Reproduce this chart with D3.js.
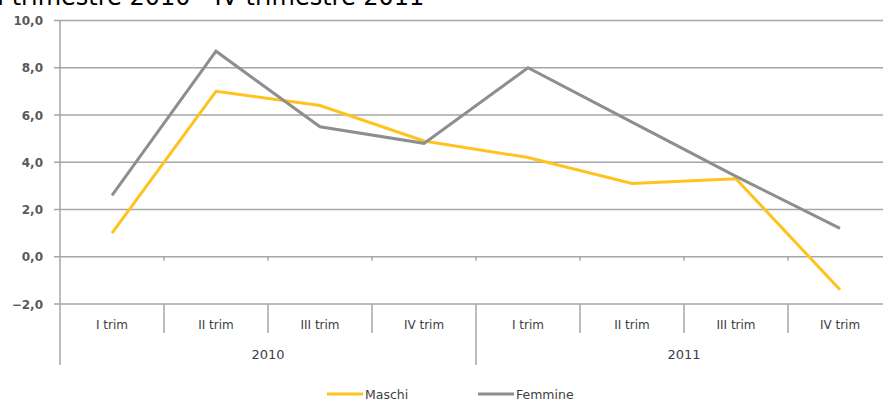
<!DOCTYPE html>
<html><head><meta charset="utf-8">
<script src="https://cdn.jsdelivr.net/npm/d3@7"></script>
<style>body{margin:0;background:#fff;}svg{display:block;font-family:"DejaVu Sans","Open Sans",sans-serif;}</style>
</head><body>
<svg id="c" width="883" height="401"></svg>
<script>
const title = "I trimestre 2010 - IV trimestre 2011";
const quarters = ["I trim","II trim","III trim","IV trim","I trim","II trim","III trim","IV trim"];
const years = ["2010","2011"];
const maschi = [1.0, 7.0, 6.4, 4.9, 4.2, 3.1, 3.3, -1.4];
const femmine = [2.6, 8.7, 5.5, 4.8, 8.0, 5.7, 3.4, 1.2];
const yTicks = [-2,0,2,4,6,8,10];
const seriesNames = ["Maschi","Femmine"];
const colors = ["#FFC31F","#8E8E8E"];

(function(){
const svg = d3.select("#c");
const pLeft = 60, pRight = 892, pTop = 20.5, pBottom = 304;
const x = d3.scaleBand().domain(d3.range(quarters.length)).range([pLeft,pRight]).padding(0);
const y = d3.scaleLinear().domain([-2,10]).range([pBottom,pTop]);
const grid = "#A6A6A6";

// title (clipped at top, as in the reference)
svg.append("text").attr("x",-3).attr("y",5).attr("font-size",24).attr("fill","#000")
  .text(title);

// gridlines
svg.append("g").selectAll("line").data(yTicks).join("line")
  .attr("x1",pLeft-6).attr("x2",883).attr("y1",d=>y(d)).attr("y2",d=>y(d))
  .attr("stroke",grid).attr("stroke-width",1.5);
// y axis line
svg.append("line").attr("x1",pLeft).attr("x2",pLeft).attr("y1",pTop).attr("y2",365)
  .attr("stroke",grid).attr("stroke-width",1.5);
// y labels
svg.append("g").selectAll("text").data(yTicks).join("text")
  .attr("x",43).attr("y",d=>y(d)+4.5).attr("text-anchor","end")
  .attr("font-size",12).attr("font-weight","bold").attr("fill","#595959")
  .text(d=>d3.format(".1f")(d).replace(".",","));

// ticks on zero line at category boundaries
svg.append("g").selectAll("line").data(d3.range(1,quarters.length)).join("line")
  .attr("x1",d=>x(d)).attr("x2",d=>x(d)).attr("y1",y(0)).attr("y2",y(0)+4)
  .attr("stroke",grid).attr("stroke-width",1.5);
// category separators below
svg.append("g").selectAll("line").data(d3.range(1,quarters.length)).join("line")
  .attr("x1",d=>x(d)).attr("x2",d=>x(d)).attr("y1",pBottom).attr("y2",d=>d===4?365:333)
  .attr("stroke",grid).attr("stroke-width",1.5);
// quarter labels
svg.append("g").selectAll("text").data(quarters).join("text")
  .attr("x",(d,i)=>x(i)+x.bandwidth()/2).attr("y",328.5).attr("text-anchor","middle")
  .attr("font-size",12).attr("fill","#404040").text(d=>d);
// year labels
svg.append("g").selectAll("text").data(years).join("text")
  .attr("x",(d,i)=>x(i*4)+x.bandwidth()*2).attr("y",359).attr("text-anchor","middle")
  .attr("font-size",13).attr("fill","#404040").text(d=>d);

// lines
const line = d3.line().x((d,i)=>x(i)+x.bandwidth()/2).y(d=>y(d));
[maschi,femmine].forEach((s,k)=>{
  svg.append("path").datum(s).attr("d",line).attr("fill","none")
    .attr("stroke",colors[k]).attr("stroke-width",3).attr("stroke-linejoin","miter");
});

// legend
const lg = [327,478];
seriesNames.forEach((n,k)=>{
  svg.append("line").attr("x1",lg[k]).attr("x2",lg[k]+36).attr("y1",394).attr("y2",394)
    .attr("stroke",colors[k]).attr("stroke-width",3);
  svg.append("text").attr("x",lg[k]+38).attr("y",398.5).attr("font-size",12.5)
    .attr("fill","#404040").text(n);
});
})();
</script>
</body></html>
